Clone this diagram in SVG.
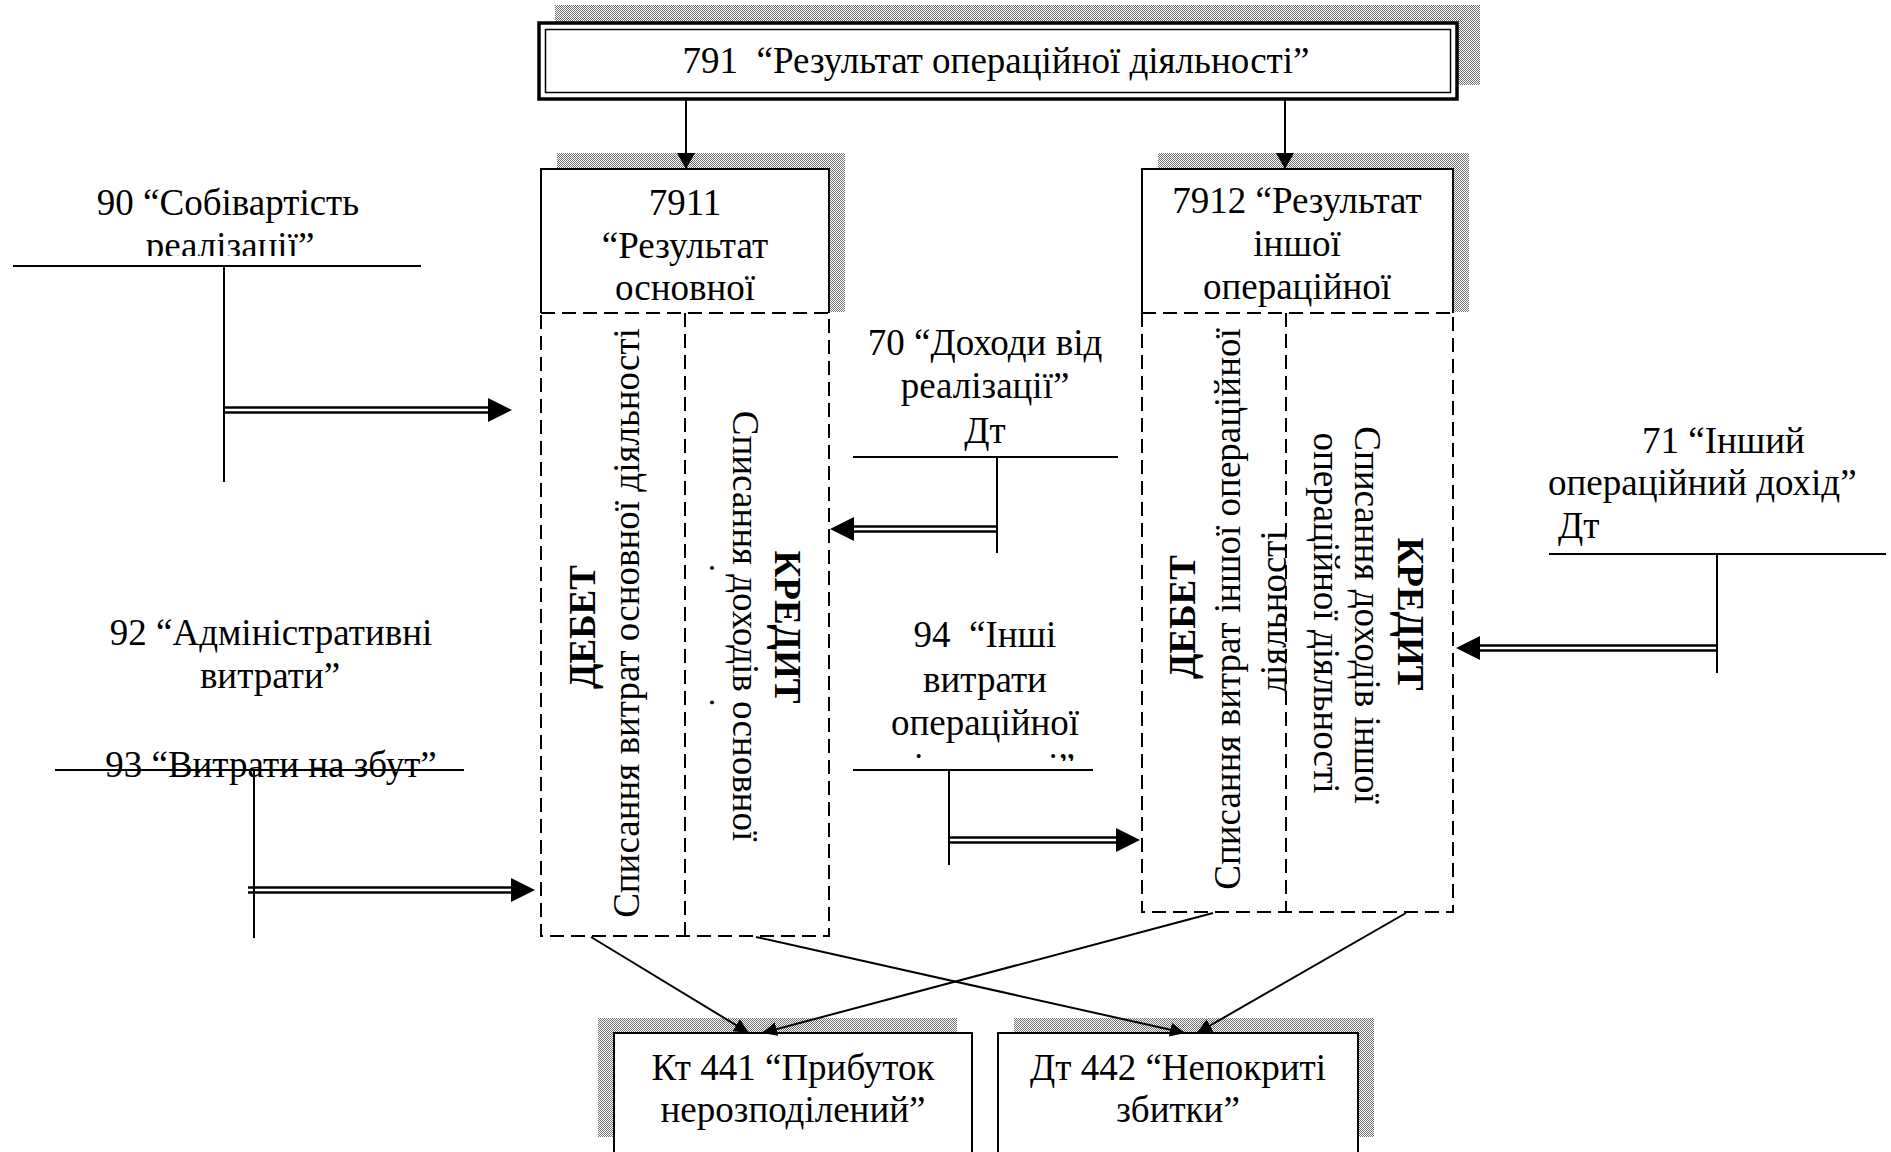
<svg xmlns="http://www.w3.org/2000/svg" width="1891" height="1152" viewBox="0 0 1891 1152">
<defs>
  <pattern id="dots" width="2" height="2" patternUnits="userSpaceOnUse">
    <rect width="2" height="2" fill="#fff"/>
    <rect width="1" height="1" fill="#707070"/>
    <rect x="1" y="1" width="1" height="1" fill="#707070"/>
  </pattern>
  <marker id="ah" markerWidth="16" markerHeight="18" refX="16" refY="9" orient="auto" markerUnits="userSpaceOnUse">
    <path d="M0,0 L16,9 L0,18 Z" fill="#000"/>
  </marker>
  <marker id="ahs" markerWidth="15" markerHeight="14" refX="15" refY="7" orient="auto" markerUnits="userSpaceOnUse">
    <path d="M0,0 L15,7 L0,14 Z" fill="#000"/>
  </marker>
  <clipPath id="c90"><rect x="0" y="0" width="520" height="256"/></clipPath>
  <clipPath id="c94"><rect x="840" y="600" width="300" height="161"/></clipPath>
  <clipPath id="c7911k"><rect x="709" y="320" width="120" height="610"/></clipPath>
  <clipPath id="c7912d"><rect x="1143" y="320" width="144" height="590"/></clipPath>
</defs>
<style>
  text { font-family: "Liberation Serif", "Times New Roman", serif; font-size: 37px; fill: #000; }
  .b { font-weight: bold; }
  .m { text-anchor: middle; }
  .ln { stroke: #000; stroke-width: 2; fill: none; }
  .dash { stroke: #000; stroke-width: 2; fill: none; stroke-dasharray: 14 7; }
  .shadow { fill: url(#dots); }
  .box { fill: #fff; stroke: #000; stroke-width: 2; }
  .dbl { stroke: #000; stroke-width: 2.5; }
  .arr { stroke: #000; stroke-width: 2; fill: none; }
</style>
<rect width="1891" height="1152" fill="#fff"/>

<!-- 791 -->
<g id="n791">
  <rect class="shadow" x="555" y="5" width="925" height="80"/>
  <rect x="539" y="23" width="918" height="76" fill="#fff" stroke="#000" stroke-width="3.5"/>
  <rect x="545.5" y="29.5" width="905" height="63" fill="none" stroke="#000" stroke-width="1.5"/>
  <text class="m" x="996" y="73" xml:space="preserve">791  “Результат операційної діяльності”</text>
</g>

<!-- 7911 -->
<g id="n7911">
  <rect class="shadow" x="557" y="153" width="288" height="159"/>
  <rect x="541" y="169" width="288" height="144" fill="#fff"/>
  <path class="ln" d="M541,313 V169 H829 V313"/>
  <rect class="dash" x="541" y="313" width="288" height="623"/>
  <line class="dash" x1="685" y1="313" x2="685" y2="936"/>
  <text class="m" x="685" y="215">7911</text>
  <text class="m" x="685" y="258">“Результат</text>
  <text class="m" x="685" y="300">основної</text>
  <text class="m b" transform="translate(595,627) rotate(-90)">ДЕБЕТ</text>
  <text class="m" transform="translate(639,623) rotate(-90)">Списання витрат основної діяльності</text>
  <text class="m b" transform="translate(775,627) rotate(90)">КРЕДИТ</text>
  <text class="m" transform="translate(733,626) rotate(90)">Списання доходів основної</text>
  <g clip-path="url(#c7911k)">
    <text class="m" transform="translate(689,626) rotate(90)">діяльності</text>
  </g>
</g>

<!-- 7912 -->
<g id="n7912">
  <rect class="shadow" x="1158" y="153" width="311" height="159"/>
  <rect x="1142" y="169" width="311" height="144" fill="#fff"/>
  <path class="ln" d="M1142,313 V169 H1453 V313"/>
  <rect class="dash" x="1142" y="313" width="311" height="599"/>
  <line class="dash" x1="1286" y1="313" x2="1286" y2="912"/>
  <text class="m" x="1297" y="213">7912 “Результат</text>
  <text class="m" x="1297" y="256">іншої</text>
  <text class="m" x="1297" y="299">операційної</text>
  <text class="m b" transform="translate(1195,617) rotate(-90)">ДЕБЕТ</text>
  <text class="m" transform="translate(1240,609) rotate(-90)">Списання витрат іншої операційної</text>
  <g clip-path="url(#c7912d)">
    <text class="m" transform="translate(1286,612) rotate(-90)">діяльності</text>
  </g>
  <text class="m b" transform="translate(1398,614) rotate(90)">КРЕДИТ</text>
  <text class="m" transform="translate(1355,615) rotate(90)">Списання доходів іншої</text>
  <text class="m" transform="translate(1314,613) rotate(90)">операційної діяльності</text>
</g>

<!-- 441 -->
<g id="n441">
  <rect class="shadow" x="598" y="1018" width="359" height="119"/>
  <rect class="box" x="614" y="1033" width="358" height="130"/>
  <text class="m" x="793" y="1080">Кт 441 “Прибуток</text>
  <text class="m" x="793" y="1122">нерозподілений”</text>
</g>

<!-- 442 -->
<g id="n442">
  <rect class="shadow" x="1014" y="1018" width="360" height="119"/>
  <rect class="box" x="998" y="1033" width="360" height="130"/>
  <text class="m" x="1178" y="1080">Дт 442 “Непокриті</text>
  <text class="m" x="1178" y="1122">збитки”</text>
</g>

<!-- T-accounts -->
<g id="t90">
  <text class="m" x="228" y="215">90 “Собівартість</text>
  <g clip-path="url(#c90)"><text class="m" x="230" y="258">реалізації”</text></g>
  <line class="ln" x1="13" y1="266" x2="421" y2="266"/>
  <line class="ln" x1="224" y1="266" x2="224" y2="482"/>
</g>
<g id="t70">
  <text class="m" x="985" y="355">70 “Доходи від</text>
  <text class="m" x="985" y="398">реалізації”</text>
  <text class="m" x="985" y="443">Дт</text>
  <line class="ln" x1="853" y1="457" x2="1118" y2="457"/>
  <line class="ln" x1="997" y1="457" x2="997" y2="553"/>
</g>
<g id="t71">
  <text x="1642" y="453">71 “Інший</text>
  <text x="1548" y="495">операційний дохід”</text>
  <text x="1558" y="538">Дт</text>
  <line class="ln" x1="1549" y1="554" x2="1886" y2="554"/>
  <line class="ln" x1="1717" y1="554" x2="1717" y2="673"/>
</g>
<g id="t92">
  <text class="m" x="271" y="645">92 “Адміністративні</text>
  <text class="m" x="270" y="688">витрати”</text>
</g>
<g id="t93">
  <text class="m" x="271" y="777">93 “Витрати на збут”</text>
  <line class="ln" x1="55" y1="770" x2="464" y2="770"/>
  <line class="ln" x1="254" y1="770" x2="254" y2="938"/>
</g>
<g id="t94">
  <text class="m" x="985" y="647" xml:space="preserve">94  “Інші</text>
  <text class="m" x="985" y="692">витрати</text>
  <text class="m" x="985" y="735">операційної</text>
  <g clip-path="url(#c94)"><text class="m" x="985" y="779">діяльності”</text></g>
  <line class="ln" x1="853" y1="770" x2="1093" y2="770"/>
  <line class="ln" x1="949" y1="770" x2="949" y2="865"/>
</g>

<!-- connectors -->
<g id="connectors">
  <line class="arr" x1="686" y1="100" x2="686" y2="169" marker-end="url(#ah)"/>
  <line class="arr" x1="1285" y1="100" x2="1285" y2="169" marker-end="url(#ah)"/>

  <line class="arr" x1="591" y1="937" x2="749" y2="1033" marker-end="url(#ahs)"/>
  <line class="arr" x1="756" y1="937" x2="1185" y2="1033" marker-end="url(#ahs)"/>
  <line class="arr" x1="1213" y1="913" x2="762" y2="1033" marker-end="url(#ahs)"/>
  <line class="arr" x1="1406" y1="913" x2="1197" y2="1033" marker-end="url(#ahs)"/>

  <!-- 90 -> 7911 -->
  <line class="dbl" x1="224" y1="407.5" x2="490" y2="407.5"/>
  <line class="dbl" x1="224" y1="412.5" x2="490" y2="412.5"/>
  <polygon points="488,398 512,410 488,422"/>
  <!-- 93 -> 7911 -->
  <line class="dbl" x1="248" y1="887.5" x2="513" y2="887.5"/>
  <line class="dbl" x1="248" y1="892.5" x2="513" y2="892.5"/>
  <polygon points="511,878 535,890 511,902"/>
  <!-- 94 -> 7912 -->
  <line class="dbl" x1="949" y1="837.5" x2="1118" y2="837.5"/>
  <line class="dbl" x1="949" y1="842.5" x2="1118" y2="842.5"/>
  <polygon points="1116,828 1140,840 1116,852"/>
  <!-- 70 -> 7911 -->
  <line class="dbl" x1="997" y1="526.5" x2="852" y2="526.5"/>
  <line class="dbl" x1="997" y1="531.5" x2="852" y2="531.5"/>
  <polygon points="854,517 830,529 854,541"/>
  <!-- 71 -> 7912 -->
  <line class="dbl" x1="1717" y1="645.5" x2="1478" y2="645.5"/>
  <line class="dbl" x1="1717" y1="650.5" x2="1478" y2="650.5"/>
  <polygon points="1480,636 1456,648 1480,660"/>
</g>
</svg>
